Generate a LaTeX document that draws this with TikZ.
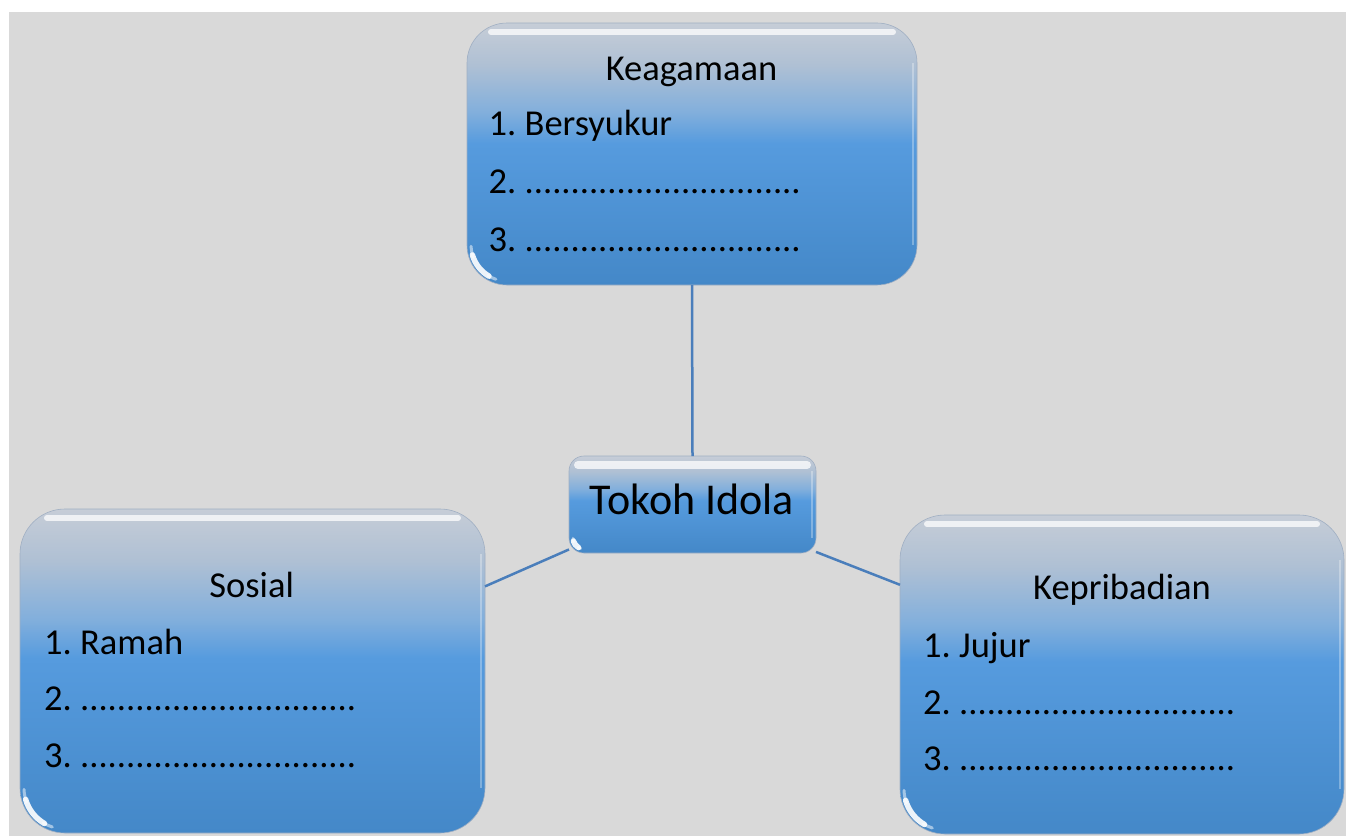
\documentclass[tikz,border=0pt]{standalone}
\usepackage{fontspec}
\setmainfont{Carlito}
\usetikzlibrary{calc}
\definecolor{bgc}{RGB}{217,217,217}
\definecolor{btop}{RGB}{198,205,215}
\definecolor{bup}{RGB}{175,192,212}
\definecolor{bupm}{RGB}{130,175,220}
\definecolor{bmid}{RGB}{86,155,222}
\definecolor{bbot}{RGB}{68,136,200}
\definecolor{boxedge}{RGB}{160,175,195}
\definecolor{linec}{RGB}{74,126,187}
\pgfdeclareverticalshading{boxshade}{100bp}{color(0bp)=(bbot); color(25bp)=(bbot); color(52bp)=(bmid); color(58bp)=(bupm); color(67bp)=(bup); color(75bp)=(btop); color(100bp)=(btop)}
\newcommand\glossbox[4]{% node, radius, arc radius, top width
  \draw[white, line width=#4, line cap=round, opacity=0.75]
    ($(#1.north west)+(#2*0.6,9)$) -- ($(#1.north east)+(-#2*0.6,9)$);
  \draw[white, line width=3pt, line cap=round, opacity=0.5]
    ($(#1.south west)+(#2,-#2)+(182:#3)$) arc[start angle=182, end angle=200, radius=#3];
  \draw[white, line width=3pt, line cap=round, opacity=0.5]
    ($(#1.south west)+(#2,-#2)+(238:#3)$) arc[start angle=238, end angle=252, radius=#3];
  \draw[white, line width=5.5pt, line cap=round, opacity=0.9]
    ($(#1.south west)+(#2,-#2)+(196:#3)$) arc[start angle=196, end angle=240, radius=#3];
  \draw[white, line width=1.2pt, opacity=0.3]
    ($(#1.north east)+(-4,#2)$) -- ($(#1.south east)+(-4,-#2)$);
}
\begin{document}
\frenchspacing
\begin{tikzpicture}[x=1pt,y=-1pt,
  box/.style={shade, shading=boxshade, rounded corners=#1, inner sep=0pt, outer sep=0pt, draw=boxedge, line width=0.6pt},
  conn/.style={draw=linec, line width=2.5pt},
  head/.style={font=\fontsize{36.5}{40}\selectfont, inner sep=0pt, anchor=base, text=black},
  item/.style={font=\fontsize{36.5}{40}\selectfont, inner sep=0pt, anchor=base west, text=black}]
\useasboundingbox (0,0) rectangle (1346,836);
\fill[white] (0,0) rectangle (1346,836);
\fill[bgc] (9,12) rectangle (1346,836);

\node[box=40pt, minimum width=450pt, minimum height=262pt] (kea) at (692,154) {};
\node[box=15pt, minimum width=247pt, minimum height=97pt] (tok) at (692.5,504.5) {};
\node[box=45pt, minimum width=465pt, minimum height=324pt] (sos) at (252.5,671) {};
\node[box=45pt, minimum width=444pt, minimum height=319pt] (kep) at (1122,674.5) {};

\draw[conn] (kea.south) -- (tok.north);
\draw[conn] (sos.20.9) -- (tok.200);
\draw[conn] (kep.158.5) -- (tok.339.5);

\glossbox{kea}{40}{36pt}{6pt}
\glossbox{tok}{15}{11pt}{8pt}
\glossbox{sos}{45}{41pt}{6pt}
\glossbox{kep}{45}{41pt}{6pt}

\node[head] (keah) at (691.5,80) {Keagamaan};
\node[item] (kea1) at (488.5,135) {1. Bersyukur};
\node[item] (kea2) at (488.5,193.5) {2. ..............................};
\node[item] (kea3) at (488.5,251) {3. ..............................};

\node[head, font=\fontsize{44}{48}\selectfont] (tokt) at (692,514) {Tokoh Idola};

\node[head] (sosh) at (251.7,597) {Sosial};
\node[item] (sos1) at (44,654) {1. Ramah};
\node[item] (sos2) at (44,710.7) {2. ..............................};
\node[item] (sos3) at (44,767) {3. ..............................};

\node[head] (keph) at (1122,599.3) {Kepribadian};
\node[item] (kep1) at (923,657) {1. Jujur};
\node[item] (kep2) at (923,714) {2. ..............................};
\node[item] (kep3) at (923,770.7) {3. ..............................};
\end{tikzpicture}
\end{document}
